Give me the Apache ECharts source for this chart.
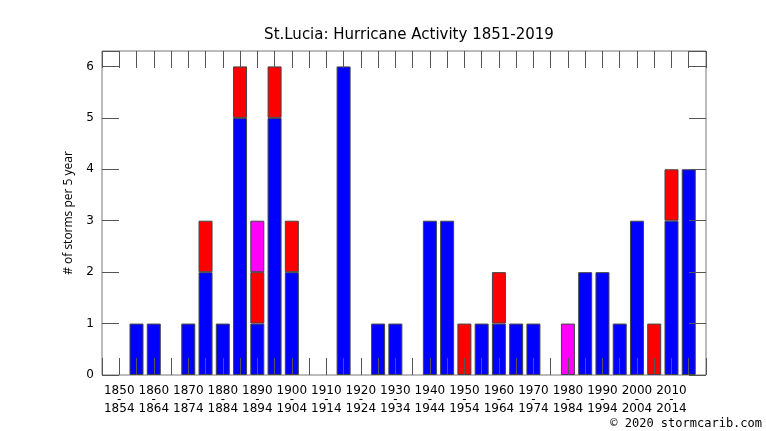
<!DOCTYPE html>
<html>
<head>
<meta charset="utf-8">
<script src="https://cdn.jsdelivr.net/npm/echarts@6/dist/echarts.min.js"></script>
<style>
  html, body { margin: 0; padding: 0; background: #fff; }
  #main { width: 766px; height: 431px; }
</style>
</head>
<body>
<div id="main"></div>
<script>
// 5-year bins, start year of each bin
var bins = [1850,1855,1860,1865,1870,1875,1880,1885,1890,1895,
            1900,1905,1910,1915,1920,1925,1930,1935,1940,1945,
            1950,1955,1960,1965,1970,1975,1980,1985,1990,1995,
            2000,2005,2010,2015];
var blueVals = [0,1,1,0,1,2,1,5,1,5,
                2,0,0,6,0,1,1,0,3,3,
                0,1,1,1,1,0,0,2,2,1,
                3,0,3,4];
var redVals  = [0,0,0,0,0,1,0,1,1,1,
                1,0,0,0,0,0,0,0,0,0,
                1,0,1,0,0,0,0,0,0,0,
                0,1,1,0];
var pinkVals = [0,0,0,0,0,0,0,0,1,0,
                0,0,0,0,0,0,0,0,0,0,
                0,0,0,0,0,0,1,0,0,0,
                0,0,0,0];
var labelYears = [1850,1860,1870,1880,1890,1900,1910,1920,1930,1940,
                  1950,1960,1970,1980,1990,2000,2010];

var myChart = echarts.init(document.getElementById('main'));

// axis runs one empty slot before the first bin and after the last one
var axisYears = [bins[0] - 5].concat(bins, [bins[bins.length - 1] + 5]).map(String);

function padded(vals) {
  var out = [null];
  for (var i = 0; i < vals.length; i++) {
    out.push(vals[i] === 0 ? null : vals[i]);
  }
  out.push(null);
  return out;
}

var tickStyle = { show: true, inside: true, length: 17, interval: 0, lineStyle: { color: '#555', width: 1 } };
var font = 'DejaVu Sans';
var labelFont = { fontFamily: font, fontSize: 12, color: '#000' };

function barSeries(name, vals, color) {
  return {
    name: name,
    type: 'bar',
    stack: 'storms',
    barWidth: 14,
    z: 1,
    itemStyle: { color: color, borderColor: '#444', borderWidth: 1 },
    data: padded(vals)
  };
}

// bottom category axis carrying one line of the bin label
function bottomAxis(margin, lineFn) {
  return {
    type: 'category',
    data: axisYears,
    position: 'bottom',
    boundaryGap: false,
    z: 5,
    axisLine: { show: false, onZero: false },
    axisTick: { show: false },
    splitLine: { show: false },
    axisLabel: Object.assign({
      interval: 0,
      margin: margin,
      formatter: function (v) {
        var y = parseInt(v, 10);
        return labelYears.indexOf(y) < 0 ? '' : lineFn(y);
      }
    }, labelFont)
  };
}

var option = {
  animation: false,
  title: {
    text: 'St.Lucia: Hurricane Activity 1851-2019',
    left: 404,
    textAlign: 'center',
    top: 23,
    textStyle: { fontFamily: font, fontSize: 15, fontWeight: 'normal', color: '#000' }
  },
  grid: {
    left: 102, right: 60, top: 51, bottom: 56,
    show: true, borderColor: '#777', borderWidth: 1
  },
  xAxis: [
    {
      // ticks along the bottom edge
      type: 'category',
      data: axisYears,
      boundaryGap: false,
      z: 5,
      axisLine: { show: false, onZero: false },
      axisTick: tickStyle,
      axisLabel: { show: false },
      splitLine: { show: false }
    },
    {
      type: 'category',
      data: axisYears,
      position: 'top',
      boundaryGap: false,
      z: 5,
      axisLine: { show: false, onZero: false },
      axisTick: tickStyle,
      axisLabel: { show: false },
      splitLine: { show: false }
    },
    bottomAxis(10, function (y) { return String(y); }),
    bottomAxis(19, function () { return '-'; }),
    bottomAxis(28, function (y) { return String(y + 4); })
  ],
  yAxis: [
    {
      type: 'value',
      min: 0,
      max: 6.3,
      interval: 1,
      z: 5,
      name: '# of storms per 5 year',
      nameLocation: 'middle',
      nameGap: 27,
      nameTextStyle: { fontFamily: 'Open Sans', fontSize: 12, color: '#000' },
      axisLine: { show: false },
      axisTick: tickStyle,
      splitLine: { show: false },
      axisLabel: {
        fontFamily: font,
        fontSize: 12,
        color: '#000',
        margin: 8,
        formatter: function (v) {
          return Math.abs(v - Math.round(v)) < 1e-6 ? String(Math.round(v)) : '';
        }
      }
    },
    {
      type: 'value',
      position: 'right',
      min: 0,
      max: 6.3,
      interval: 1,
      z: 5,
      axisLine: { show: false },
      axisTick: tickStyle,
      axisLabel: { show: false },
      splitLine: { show: false }
    }
  ],
  graphic: [
    {
      type: 'text',
      right: 4,
      top: 418,
      style: {
        text: '\u00a9 2020 stormcarib.com',
        font: '12px "DejaVu Sans Mono"',
        fill: '#000'
      }
    }
  ],
  series: [
    barSeries('blue', blueVals, '#0000ff'),
    barSeries('red', redVals, '#ff0000'),
    barSeries('magenta', pinkVals, '#ff00ff')
  ]
};

myChart.setOption(option);
</script>
</body>
</html>
